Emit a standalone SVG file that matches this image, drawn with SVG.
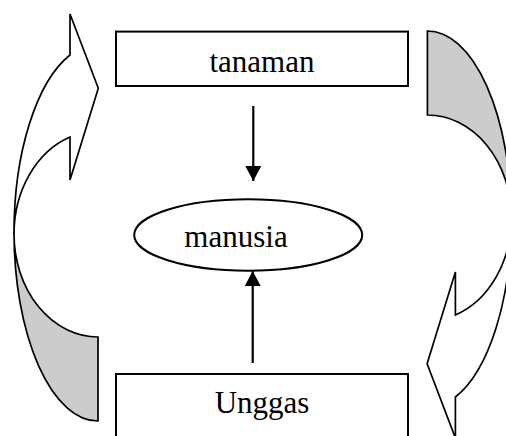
<svg xmlns="http://www.w3.org/2000/svg" xmlns:xlink="http://www.w3.org/1999/xlink" width="506" height="436" viewBox="0 0 506 436">
  <style>
    .box { fill: #ffffff; stroke: #000000; stroke-width: 2; }
    .lbl { font-family: "Liberation Serif", "Times New Roman", serif; font-size: 31px; fill: #000000; text-anchor: middle; }
    .link { stroke: #000000; stroke-width: 2.2; fill: none; }
    .band-front { fill: #ffffff; stroke: #000000; stroke-width: 1.7; stroke-linejoin: miter; }
    .band-back { fill: #cccccc; stroke: #000000; stroke-width: 1.7; }
  </style>
  <defs>
    <marker id="head" viewBox="0 0 15 16" refX="15" refY="8" markerWidth="15" markerHeight="16" markerUnits="userSpaceOnUse" orient="auto">
      <path d="M0,0 L15,8 L0,16 Z" fill="#000000"/>
    </marker>
    <!-- curved block arrow: shaded back band plus the front band ending in a head -->
    <g id="curved-arrow">
      <path class="band-back" d="M14,232.6 A84,188.4 0 0 0 98,421 L98,337 A84,103 0 0 1 14,234 Z"/>
      <path class="band-front" d="M70,55 L70,14 L98.3,88.3 L70,180 L70,137 A84,103 0 0 0 14,234 L14,232.6 A84,188.4 0 0 1 70,55 Z"/>
    </g>
  </defs>

  <g id="connectors">
    <use id="cycle-left" xlink:href="#curved-arrow"/>
    <use id="cycle-right" xlink:href="#curved-arrow" transform="rotate(180 262.7 226)"/>
    <line id="tanaman-to-manusia" class="link" x1="253.3" y1="106" x2="253.3" y2="181" marker-end="url(#head)"/>
    <line id="unggas-to-manusia" class="link" x1="252.7" y1="363" x2="252.7" y2="271" marker-end="url(#head)"/>
  </g>

  <g id="tanaman">
    <rect class="box" x="116" y="31.6" width="292" height="54.4"/>
    <text class="lbl" x="262" y="71.5">tanaman</text>
  </g>

  <g id="manusia">
    <ellipse class="box" cx="248.2" cy="235" rx="114" ry="35.7"/>
    <text class="lbl" x="236" y="246.5">manusia</text>
  </g>

  <g id="unggas">
    <rect class="box" x="116" y="374" width="292" height="80"/>
    <text class="lbl" x="262" y="413">Unggas</text>
  </g>
</svg>
